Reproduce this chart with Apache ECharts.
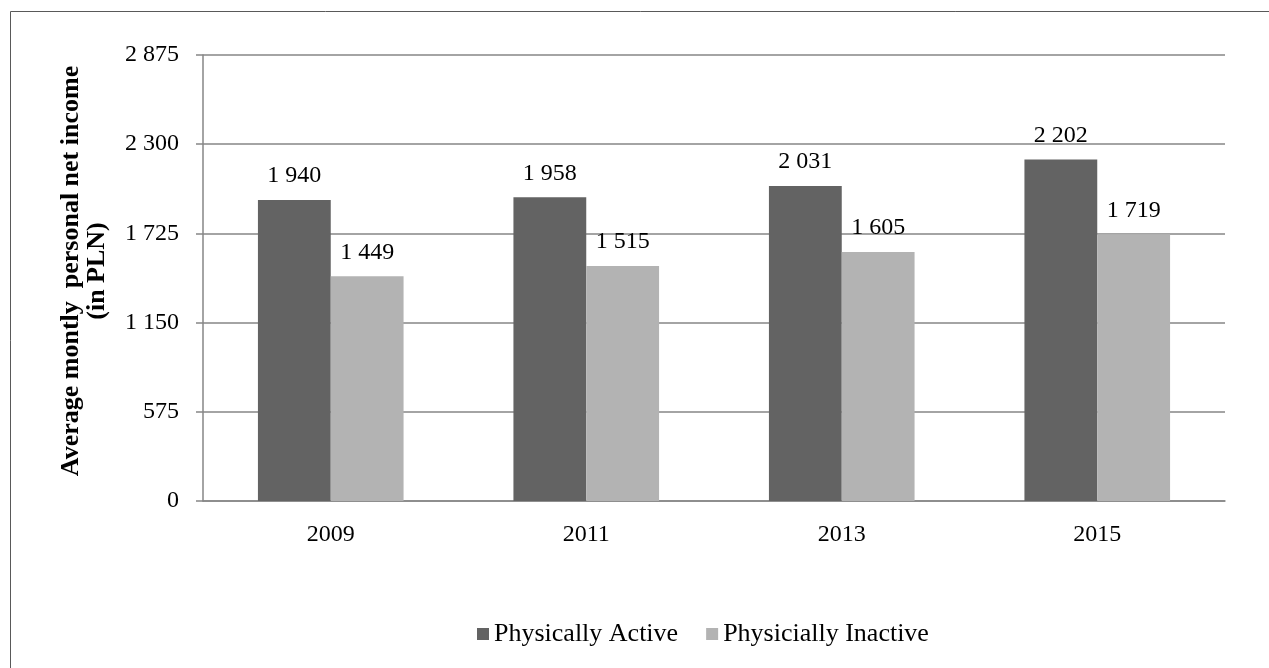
<!DOCTYPE html>
<html>
<head>
<meta charset="utf-8">
<script src="https://cdn.jsdelivr.net/npm/echarts@6/dist/echarts.min.js"></script>
<style>
  html, body { margin: 0; padding: 0; background: #fff; }
  #chart { width: 1269px; height: 668px; }
</style>
</head>
<body>
<div id="chart"></div>
<script>
// 数据
const years = ['2009', '2011', '2013', '2015'];
const activeValues = [1940, 1958, 2031, 2202];
const inactiveValues = [1449, 1515, 1605, 1719];
const seriesNames = ['Physically Active', 'Physicially Inactive'];
const yTicks = [0, 575, 1150, 1725, 2300, 2875];

const FONT = '"Liberation Serif", "Times New Roman", serif';

// 千位用空格分隔
function fmt(v) {
  return String(v).replace(/\B(?=(\d{3})+(?!\d))/g, ' ');
}

const chart = echarts.init(document.getElementById('chart'));

const barLabel = {
  show: true,
  position: 'top',
  distance: 12,
  fontFamily: FONT,
  fontSize: 24,
  color: '#000',
  formatter: p => fmt(p.value)
};

chart.setOption({
  animation: false,
  textStyle: { fontFamily: FONT, color: '#000' },
  graphic: [{
    type: 'rect',
    shape: { x: 10.5, y: 11.5, width: 1400, height: 800 },
    style: { fill: 'none', stroke: '#595959', lineWidth: 1 },
    silent: true
  }],
  grid: { left: 203, right: 44, top: 55, bottom: 167 },
  legend: {
    left: 472,
    top: 616,
    itemWidth: 12,
    itemHeight: 12,
    itemGap: 28,
    icon: 'rect',
    textStyle: { fontFamily: FONT, fontSize: 26, color: '#000' },
    data: seriesNames
  },
  xAxis: {
    type: 'category',
    data: years,
    axisLine: { lineStyle: { color: '#868686', width: 1.5 } },
    axisTick: { length: 8, lineStyle: { color: '#868686', width: 1.5 } },
    axisLabel: { fontFamily: FONT, fontSize: 24, color: '#000', margin: 22 }
  },
  yAxis: {
    type: 'value',
    min: yTicks[0],
    max: yTicks[yTicks.length - 1],
    interval: yTicks[1] - yTicks[0],
    name: 'Average montly  personal net income\n(in PLN)',
    nameLocation: 'middle',
    nameGap: 93,
    nameRotate: 90,
    nameTextStyle: {
      fontFamily: FONT,
      fontSize: 26,
      fontWeight: 'bold',
      color: '#000',
      lineHeight: 26,
      padding: [0, 0, 0, 14]
    },
    axisLine: { show: true, lineStyle: { color: '#868686', width: 1.5 } },
    axisTick: { show: true, length: 7, lineStyle: { color: '#868686', width: 1.5 } },
    splitLine: { lineStyle: { color: '#868686', width: 1.5 } },
    axisLabel: {
      fontFamily: FONT,
      fontSize: 24,
      color: '#000',
      margin: 24,
      formatter: fmt
    }
  },
  series: [
    {
      name: seriesNames[0],
      type: 'bar',
      data: activeValues,
      barGap: '0%',
      barCategoryGap: '43%',
      itemStyle: { color: '#636363' },
      label: barLabel
    },
    {
      name: seriesNames[1],
      type: 'bar',
      data: inactiveValues,
      itemStyle: { color: '#b3b3b3' },
      label: barLabel
    }
  ]
});
</script>
</body>
</html>
